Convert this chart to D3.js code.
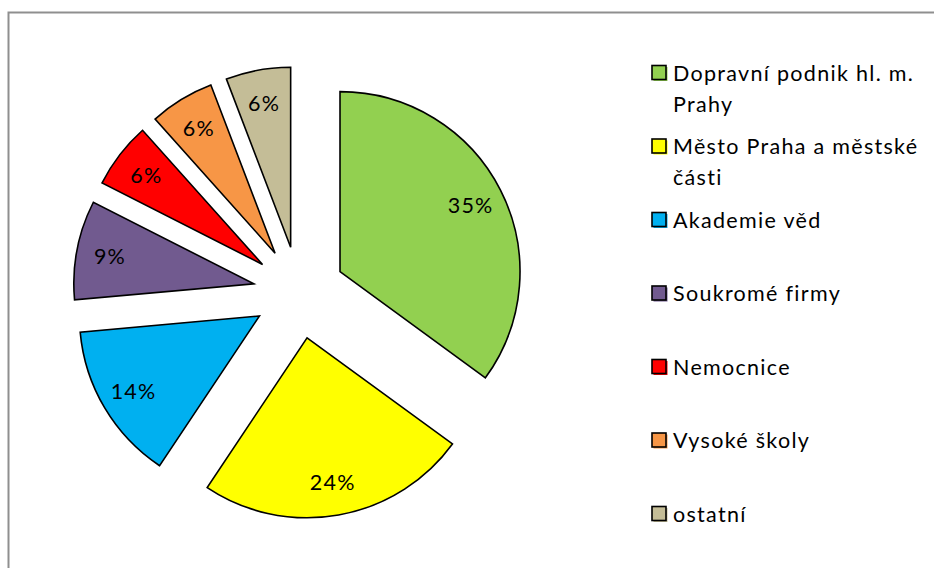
<!DOCTYPE html>
<html>
<head>
<meta charset="utf-8">
<script src="https://cdn.jsdelivr.net/npm/d3@7"></script>
<style>
  html, body { margin: 0; padding: 0; background: #fff; }
  svg { display: block; }
</style>
</head>
<body>
<svg id="chart" width="934" height="568"></svg>
<script>
// ---- data ----
const categories = [
  "Dopravní podnik hl. m. Prahy",
  "Město Praha a městské části",
  "Akademie věd",
  "Soukromé firmy",
  "Nemocnice",
  "Vysoké školy",
  "ostatní"
];
const legendLines = [
  ["Dopravní podnik hl. m.", "Prahy"],
  ["Město Praha a městské", "části"],
  ["Akademie věd"],
  ["Soukromé firmy"],
  ["Nemocnice"],
  ["Vysoké školy"],
  ["ostatní"]
];
const shares = [35.0, 24.3, 14.2, 8.9, 5.9, 5.8, 5.8];
const colors = ["#92d050", "#ffff00", "#00b0f0", "#715a8f", "#ff0000", "#f79646", "#c4bd97"];

// ---- layout ----
const svg = d3.select("#chart");
const font = "Lato, 'Open Sans', sans-serif";
const cx = 299, cy = 292.5, R = 180, explode = 46;

// chart frame
svg.append("rect")
  .attr("x", 8.5).attr("y", 12.5)
  .attr("width", 940).attr("height", 580)
  .attr("fill", "none").attr("stroke", "#8f8f8f").attr("stroke-width", 2);

const pie = d3.pie().sort(null).value(d => d).startAngle(0).endAngle(2 * Math.PI);
const arcs = pie(shares);
const arc = d3.arc().innerRadius(0).outerRadius(R);
const total = d3.sum(shares);

const g = svg.append("g").attr("transform", `translate(${cx},${cy})`);

const slice = g.selectAll("g.slice").data(arcs).enter().append("g")
  .attr("class", "slice")
  .attr("transform", d => {
    const m = (d.startAngle + d.endAngle) / 2;
    return `translate(${explode * Math.sin(m)},${-explode * Math.cos(m)})`;
  });

slice.append("path")
  .attr("d", arc)
  .attr("fill", (d, i) => colors[i])
  .attr("stroke", "#000")
  .attr("stroke-width", 1.6)
  .attr("stroke-linejoin", "miter");

const labelR = 146.5;
slice.append("text")
  .attr("x", d => labelR * Math.sin((d.startAngle + d.endAngle) / 2))
  .attr("y", d => -labelR * Math.cos((d.startAngle + d.endAngle) / 2))
  .attr("text-anchor", "middle")
  .attr("dominant-baseline", "central")
  .attr("font-family", font)
  .attr("font-size", 21.5)
  .attr("letter-spacing", 1.2)
  .attr("fill", "#000")
  .text(d => d3.format(".0%")(d.value / total));

// ---- legend ----
const legendY = d3.scaleLinear().domain([0, categories.length - 1]).range([73, 514]);
const lg = svg.append("g");
const item = lg.selectAll("g.item").data(categories).enter().append("g")
  .attr("class", "item")
  .attr("transform", (d, i) => `translate(652,${legendY(i)})`);

item.append("rect")
  .attr("x", 1.5).attr("y", -6).attr("width", 14).attr("height", 14)
  .attr("fill", (d, i) => colors[i]);
item.append("rect")
  .attr("x", 0).attr("y", -7.5).attr("width", 14).attr("height", 14)
  .attr("fill", (d, i) => colors[i])
  .attr("stroke", "#000").attr("stroke-width", 1.6);

item.each(function(d, i) {
  const t = d3.select(this).append("text")
    .attr("font-family", font)
    .attr("font-size", 21.5)
    .attr("letter-spacing", 1.3)
    .attr("fill", "#000");
  legendLines[i].forEach((line, k) => {
    t.append("tspan")
      .attr("x", 21)
      .attr("y", k * 31)
      .attr("dy", "0.36em")
      .text(line);
  });
});
</script>
</body>
</html>
